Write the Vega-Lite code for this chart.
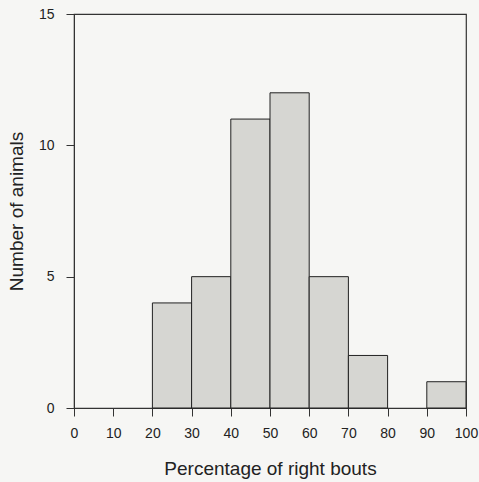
{
  "$schema": "https://vega.github.io/schema/vega-lite/v6.json",
  "width": 392,
  "height": 394,
  "autosize": {"type": "none"},
  "padding": {"left": 74, "top": 14, "right": 13, "bottom": 74},
  "background": "#f6f6f4",
  "config": {
    "view": {"stroke": "#333333", "strokeWidth": 1.2},
    "axis": {
      "grid": false,
      "domainColor": "#333333",
      "tickColor": "#333333",
      "tickSize": 8,
      "labelFont": "Liberation Sans",
      "titleFont": "Liberation Sans",
      "labelFontSize": 14,
      "titleFontSize": 19,
      "titleFontWeight": "normal",
      "labelColor": "#222222",
      "titleColor": "#222222"
    }
  },
  "data": {
    "values": [
      {"start": 20, "end": 30, "count": 4},
      {"start": 30, "end": 40, "count": 5},
      {"start": 40, "end": 50, "count": 11},
      {"start": 50, "end": 60, "count": 12},
      {"start": 60, "end": 70, "count": 5},
      {"start": 70, "end": 80, "count": 2},
      {"start": 90, "end": 100, "count": 1}
    ]
  },
  "mark": {"type": "rect", "fill": "#d6d6d2", "stroke": "#222222", "strokeWidth": 1},
  "encoding": {
    "x": {
      "field": "start",
      "type": "quantitative",
      "scale": {"domain": [0, 100], "nice": false},
      "axis": {"values": [0, 10, 20, 30, 40, 50, 60, 70, 80, 90, 100], "title": "Percentage of right bouts", "labelPadding": 10, "titlePadding": 19, "labelFlush": false}
    },
    "x2": {"field": "end"},
    "y": {
      "field": "count",
      "type": "quantitative",
      "scale": {"domain": [0, 15], "nice": false},
      "axis": {"values": [0, 5, 10, 15], "title": "Number of animals", "labelPadding": 12, "titlePadding": 12}
    },
    "y2": {"datum": 0}
  }
}
